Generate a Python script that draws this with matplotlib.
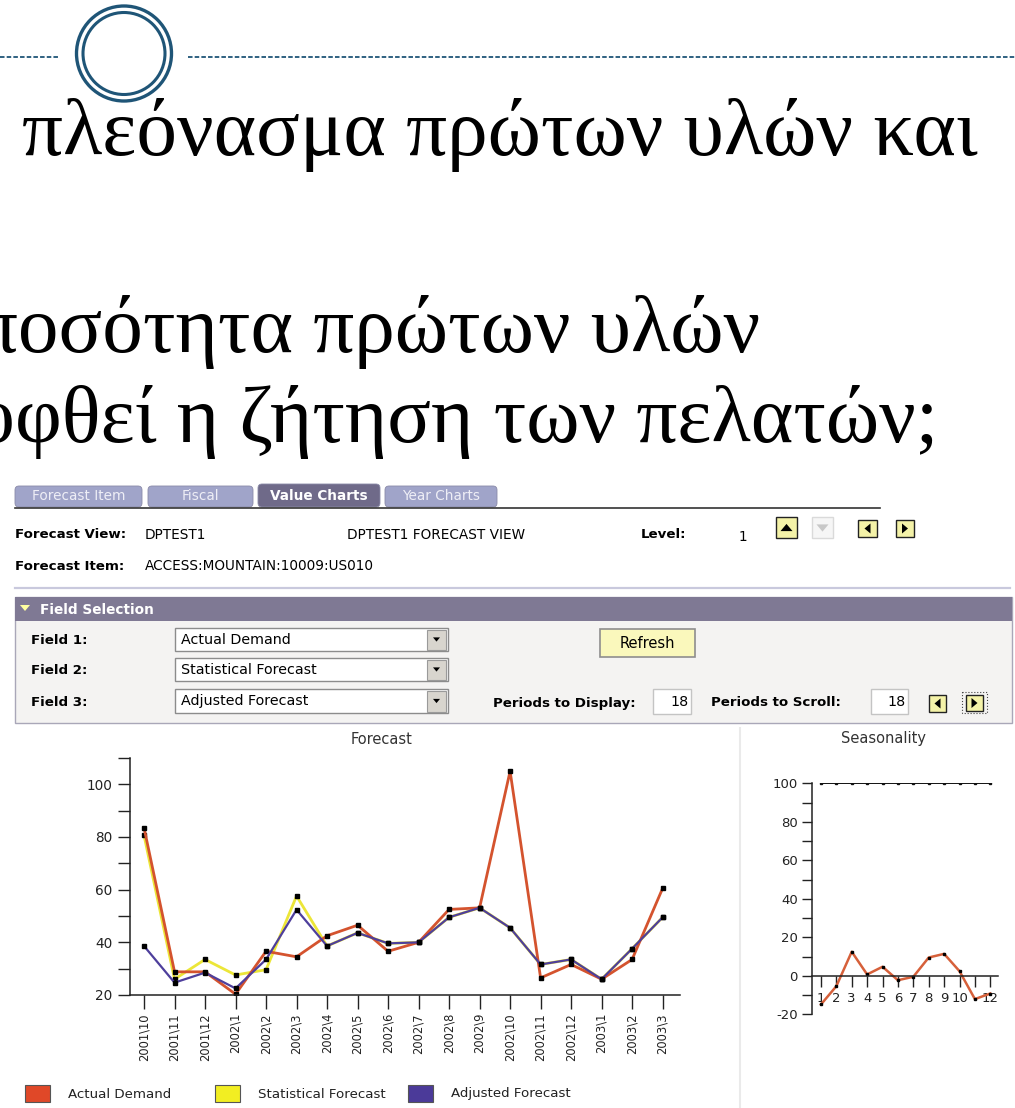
import matplotlib
matplotlib.use('Agg')
import matplotlib.pyplot as plt
from matplotlib.patches import Rectangle, Ellipse, FancyBboxPatch, Polygon

# forecast chart data
periods = ['2001\\10', '2001\\11', '2001\\12', '2002\\1', '2002\\2', '2002\\3', '2002\\4', '2002\\5', '2002\\6',
           '2002\\7', '2002\\8', '2002\\9', '2002\\10', '2002\\11', '2002\\12', '2003\\1', '2003\\2', '2003\\3']
actual_demand = [83.5, 28.8, 28.8, 20.3, 36.6, 34.5, 42.5, 46.5, 36.6, 40.0, 52.5, 53.1,
                 105.0, 26.5, 31.6, 26.0, 33.5, 60.5]
statistical_forecast = [80.6, 26.0, 33.5, 27.6, 29.6, 57.6, 38.6, 43.6, 39.6, 40.0, 49.5, 53.1,
                        45.5, 31.6, 33.5, 26.0, 37.6, 49.5]
adjusted_forecast = [38.6, 24.7, 28.5, 22.5, 33.5, 52.4, 38.6, 43.6, 39.6, 40.0, 49.5, 53.1,
                     45.5, 31.6, 33.5, 26.0, 37.6, 49.5]

# seasonality chart data
months = [1, 2, 3, 4, 5, 6, 7, 8, 9, 10, 11, 12]
month_labels = ['1', '2', '3', '4', '5', '6', '7', '8', '9', '10', '', '12']
seasonality = [-14.9, -5.4, 12.5, 0.7, 4.7, -2.3, -0.5, 9.5, 11.4, 2.4, -12.1, -9.2]
seasonality_base = [100] * 12

series_names = ['Actual Demand', 'Statistical Forecast', 'Adjusted Forecast']
series_colors = ['#D4532E', '#ECE638', '#4E3F9C']
legend_colors = ['#E04828', '#F2EE22', '#4B3A99']

line1 = 'πλεόνασμα πρώτων υλών και'
line2 = 'την ποσότητα πρώτων υλών'
line3 = 'να καλυφθεί η ζήτηση των πελατών;'

W, H = 1015, 1108
fig = plt.figure(figsize=(W / 100, H / 100), dpi=100)
bg = fig.add_axes([0, 0, 1, 1])
bg.set_xlim(0, W)
bg.set_ylim(H, 0)
bg.axis('off')

UI = 'DejaVu Sans'
SERIF = 'Liberation Serif'


def px_axes(x0, y0, x1, y1):
    return fig.add_axes([x0 / W, 1 - y1 / H, (x1 - x0) / W, (y1 - y0) / H])


def box(x0, y0, x1, y1, fc, ec='none', lw=1, ls='-'):
    bg.add_patch(Rectangle((x0, y0), x1 - x0, y1 - y0, fc=fc, ec=ec, lw=lw, ls=ls))


def tri(cx, cy, s, d, color='black'):
    if d == 'up':
        pts = [(cx - s, cy + s * 0.6), (cx + s, cy + s * 0.6), (cx, cy - s * 0.6)]
    elif d == 'down':
        pts = [(cx - s, cy - s * 0.6), (cx + s, cy - s * 0.6), (cx, cy + s * 0.6)]
    elif d == 'left':
        pts = [(cx + s * 0.6, cy - s), (cx + s * 0.6, cy + s), (cx - s * 0.6, cy)]
    else:
        pts = [(cx - s * 0.6, cy - s), (cx - s * 0.6, cy + s), (cx + s * 0.6, cy)]
    bg.add_patch(Polygon(pts, closed=True, fc=color, ec='none'))


# ---- slide header: dashed rule with double ring
dash_col = '#1F5577'
bg.plot([0, 58], [57, 57], color=dash_col, lw=1.3, ls=(0, (2.5, 1.2)))
bg.plot([188, W], [57, 57], color=dash_col, lw=1.3, ls=(0, (2.5, 1.2)))
bg.add_patch(Ellipse((124, 53.5), 95, 95, fill=False, ec=dash_col, lw=2.4))
bg.add_patch(Ellipse((124, 53.5), 82, 82, fill=False, ec=dash_col, lw=2.2))

# ---- greek slide text
t1 = bg.text(22, 155, line1, fontsize=60, family=SERIF, va='baseline', ha='left')
fig.canvas.draw()
fs = 60 * 958 / t1.get_window_extent().width
t1.set_fontsize(fs)
bg.text(760, 352, line2, fontsize=fs, family=SERIF, va='baseline', ha='right')
bg.text(938, 442, line3, fontsize=fs, family=SERIF, va='baseline', ha='right')

# ---- tabs
tabs = [('Forecast Item', 15, 142), ('Fiscal', 148, 253), ('Value Charts', 258, 380), ('Year Charts', 385, 497)]
for name, x0, x1 in tabs:
    sel = name == 'Value Charts'
    fc = '#6F6A89' if sel else '#A0A4C9'
    y0 = 484 if sel else 486
    bg.add_patch(FancyBboxPatch((x0, y0), x1 - x0, 507 - y0, boxstyle='round,pad=0,rounding_size=4',
                                fc=fc, ec='#8A8AA8', lw=0.6))
    bg.text((x0 + x1) / 2, 496, name, fontsize=9.8, family=UI, color='white' if sel else '#EEEEF6',
            fontweight='bold' if sel else 'normal', ha='center', va='center')
bg.plot([15, 880], [507.5, 507.5], color='#333333', lw=1.2)

# ---- header info
bg.text(15, 535, 'Forecast View:', fontsize=9.6, family=UI, fontweight='bold', va='center')
bg.text(145, 535, 'DPTEST1', fontsize=9.8, family=UI, va='center')
bg.text(347, 535, 'DPTEST1 FORECAST VIEW', fontsize=9.8, family=UI, va='center')
bg.text(641, 535, 'Level:', fontsize=9.6, family=UI, fontweight='bold', va='center')
bg.text(739, 537, '1', fontsize=9.8, family=UI, va='center')
bg.text(15, 566, 'Forecast Item:', fontsize=9.6, family=UI, fontweight='bold', va='center')
bg.text(145, 566, 'ACCESS:MOUNTAIN:10009:US010', fontsize=9.8, family=UI, va='center')

box(776, 517, 797, 538, '#F4F2A8', '#222222', 1)
tri(786.5, 527.5, 6, 'up')
box(812, 517, 833, 538, '#F6F6F6', '#DADADA', 1)
tri(822.5, 528, 6, 'down', '#C8C8C8')
box(858, 520, 877, 537, '#F4F2A8', '#222222', 1)
tri(867.5, 528.5, 5, 'left')
box(896, 520, 914, 537, '#F4F2A8', '#222222', 1)
tri(905, 528.5, 5, 'right')

bg.plot([15, 1010], [588, 588], color='#C9C9DD', lw=1.6)

# ---- field selection panel
box(15, 597, 1012, 723, '#F4F3F2', '#A9A7B8', 1)
box(15, 597, 1012, 621, '#7F7994')
tri(25, 608, 5, 'down', '#FFFFA0')
bg.text(40, 610, 'Field Selection', fontsize=9.8, family=UI, fontweight='bold', color='white', va='center')

fields = [('Field 1:', 'Actual Demand', 640, 628, 651), ('Field 2:', 'Statistical Forecast', 671, 658, 681),
          ('Field 3:', 'Adjusted Forecast', 703, 689, 713)]
for lab, val, ty, y0, y1 in fields:
    bg.text(31, ty, lab, fontsize=9.6, family=UI, fontweight='bold', va='center')
    box(175, y0, 448, y1, 'white', '#8C8C8C', 1)
    box(427, y0 + 2, 446, y1 - 1, '#D8D5CE', '#9A9A9A', 0.8)
    tri(436.5, (y0 + y1) / 2, 3.5, 'down')
    bg.text(181, (y0 + y1) / 2, val, fontsize=10.3, family=UI, va='center')

box(600, 629, 695, 657, '#FAF8BC', '#8E8E8E', 1.2)
bg.text(647.5, 643, 'Refresh', fontsize=10.5, family=UI, ha='center', va='center')

bg.text(493, 703, 'Periods to Display:', fontsize=9.6, family=UI, fontweight='bold', va='center')
box(653, 689, 691, 714, 'white', '#C4C4C4', 1)
bg.text(689, 702, '18', fontsize=10.3, family=UI, ha='right', va='center')
bg.text(711, 703, 'Periods to Scroll:', fontsize=9.6, family=UI, fontweight='bold', va='center')
box(871, 689, 908, 714, 'white', '#C4C4C4', 1)
bg.text(906, 702, '18', fontsize=10.3, family=UI, ha='right', va='center')
box(929, 695, 946, 712, '#F4F2A8', '#222222', 1)
tri(937.5, 703.5, 5, 'left')
box(962, 692, 987, 713, 'none', '#444444', 0.8, ':')
box(966, 695, 983, 711, '#F4F2A8', '#222222', 1)
tri(974.5, 703, 5, 'right')

# ---- chart panel
bg.plot([740, 740], [728, H], color='#EAEAEA', lw=1.5)
bg.text(382, 739, 'Forecast', fontsize=10.5, color='#333333', ha='center', va='center')
bg.text(884, 739, 'Seasonality', fontsize=10.5, color='#333333', ha='center', va='center')

ax = px_axes(130, 758, 680, 995)
ax.patch.set_alpha(0)
x = list(range(len(periods)))
for vals, col, lw in [(statistical_forecast, series_colors[1], 2.0), (actual_demand, series_colors[0], 2.0),
                      (adjusted_forecast, series_colors[2], 1.6)]:
    ax.plot(x, vals, color=col, lw=lw, marker='s', ms=2.6, mfc='black', mec='black')
ax.set_xlim(-0.46, 17.57)
ax.set_ylim(20, 110)
for s in ['top', 'right']:
    ax.spines[s].set_visible(False)
for s in ['left', 'bottom']:
    ax.spines[s].set_color('#222222')
    ax.spines[s].set_linewidth(1.1)
ax.set_yticks(range(20, 111, 10))
ax.set_yticklabels([str(v) if v % 20 == 0 else '' for v in range(20, 111, 10)])
ax.set_xticks(x)
ax.set_xticklabels(periods, rotation=90)
ax.tick_params(axis='y', length=8.5, width=1, pad=4, labelsize=9.8, colors='#222222')
ax.tick_params(axis='x', length=10, width=1, pad=3, labelsize=8.3, colors='#222222')

ax2 = px_axes(811.7, 783.3, 998, 1014.3)
ax2.patch.set_alpha(0)
ax2.plot(months, seasonality_base, color='#111111', lw=1.4, marker='s', ms=1.6)
ax2.plot(months, seasonality, color='#D6603A', lw=1.8, marker='s', ms=1.8, mfc='black', mec='black')
ax2.set_xlim(0.4, 12.5)
ax2.set_ylim(-20, 100)
for s in ['top', 'right']:
    ax2.spines[s].set_visible(False)
ax2.spines['bottom'].set_position(('data', 0))
for s in ['left', 'bottom']:
    ax2.spines[s].set_color('#222222')
    ax2.spines[s].set_linewidth(1.1)
ax2.set_yticks(range(-20, 101, 10))
ax2.set_yticklabels([str(v) if v % 20 == 0 else '' for v in range(-20, 101, 10)])
ax2.set_xticks(months)
ax2.set_xticklabels(month_labels)
ax2.tick_params(axis='y', length=7, width=1, pad=3, labelsize=9.5, colors='#222222')
ax2.tick_params(axis='x', length=8, width=1, pad=4, labelsize=9.5, colors='#222222')

# ---- legend
for i, (name, x0) in enumerate(zip(series_names, [25, 215, 408])):
    box(x0, 1085, x0 + 25, 1102, legend_colors[i], '#555555', 0.8)
    bg.text(x0 + 43, 1094, name, fontsize=9.6, color='#222222', va='center')

fig.savefig('out.png', dpi=100)
